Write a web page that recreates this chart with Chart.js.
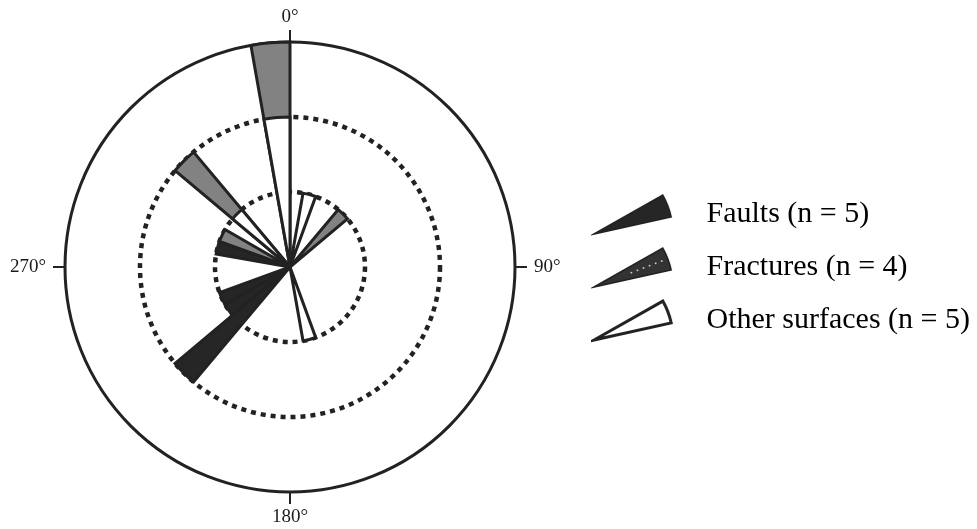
<!DOCTYPE html>
<html>
<head>
<meta charset="utf-8">
<script src="https://cdn.jsdelivr.net/npm/chart.js@4/dist/chart.umd.min.js"></script>
<style>
  html, body { margin: 0; padding: 0; background: #ffffff; }
  #wrap { width: 977px; height: 529px; position: relative; }
</style>
</head>
<body>
<div id="wrap"><canvas id="rose"></canvas></div>
<script>
// Azimuth classes (start of each 10° sector, clockwise from north)
const sectorStarts = [0, 10, 20, 30, 40, 50, 60, 70, 80, 90, 100, 110,
  120, 130, 140, 150, 160, 170, 180, 190, 200, 210, 220, 230,
  240, 250, 260, 270, 280, 290, 300, 310, 320, 330, 340, 350];

// Counts per sector
const faults = [0, 0, 0, 0, 0, 0, 0, 0, 0, 0, 0, 0,
  0, 0, 0, 0, 0, 0, 0, 0, 0, 0, 2, 1,
  1, 0, 0, 0, 1, 0, 0, 0, 0, 0, 0, 0];
const fractures = [0, 0, 0, 0, 1, 0, 0, 0, 0, 0, 0, 0,
  0, 0, 0, 0, 0, 0, 0, 0, 0, 0, 0, 0,
  0, 0, 0, 0, 0, 1, 0, 1, 0, 0, 0, 1];
const otherSurfaces = [0, 1, 0, 0, 0, 0, 0, 0, 0, 0, 0, 0,
  0, 0, 0, 0, 1, 0, 0, 0, 0, 0, 0, 0,
  0, 0, 0, 0, 0, 0, 0, 1, 0, 0, 0, 2];

// Compass labels and the sector index each one sits on
const compassLabels = ['0°', '90°', '180°', '270°'];
const compassIndex = [0, 9, 18, 27];

const seriesNames = ['Faults (n = 5)', 'Fractures (n = 4)', 'Other surfaces (n = 5)'];

const INK = '#222222';
const FAULT_FILL = '#262626';
const FRACTURE_FILL = '#828282';
const OTHER_FILL = '#ffffff';
const SERIF = '"Liberation Serif", "Times New Roman", serif';
const RING_MAX = 3;

// Stacked rose: other surfaces innermost, then fractures, then faults.
// Each layer is drawn out to its cumulative count (only where it has data),
// outer layers underneath, inner layers on top.
const cumOther = otherSurfaces.map(v => v);
const cumFract = fractures.map((v, i) => v > 0 ? otherSurfaces[i] + v : 0);
const cumFault = faults.map((v, i) => v > 0 ? otherSurfaces[i] + fractures[i] + v : 0);

// Legend swatches: tapered petals
function petalIcon(fill, dotted, outlined) {
  const c = document.createElement('canvas');
  c.width = 84; c.height = 48;
  const g = c.getContext('2d');
  const ax = 3, ay = 44, len = 79;
  const dir = -21 * Math.PI / 180, half = 8.5 * Math.PI / 180;
  g.beginPath();
  g.moveTo(ax, ay);
  g.arc(ax, ay, len, dir - half, dir + half);
  g.closePath();
  g.fillStyle = fill;
  g.fill();
  g.lineJoin = 'miter';
  g.lineWidth = outlined ? 3 : 1.5;
  g.strokeStyle = INK;
  g.stroke();
  if (dotted) {
    g.fillStyle = '#d8d8d8';
    for (let k = 0; k < 6; k++) {
      const r = 40 + k * 6.5;
      g.fillRect(ax + r * Math.cos(dir) - 0.8, ay + r * Math.sin(dir) - 0.8, 1.6, 1.6);
    }
  }
  return c;
}
const legendIcons = [
  petalIcon(FAULT_FILL, false, false),
  petalIcon('#333333', true, false),
  petalIcon(OTHER_FILL, false, true)
];

// Compass marks and labels around the outer ring, placed with the radial scale
const compassRose = {
  id: 'compassRose',
  afterDatasetsDraw(chart) {
    const s = chart.scales.r;
    const ctx = chart.ctx;
    const px = s.getDistanceFromCenterForValue(1); // pixels per count
    ctx.save();
    ctx.strokeStyle = INK;
    ctx.lineWidth = 2;
    compassIndex.forEach(idx => {
      const a = s.getPointPositionForValue(idx, RING_MAX);
      const b = s.getPointPositionForValue(idx, RING_MAX + 12 / px);
      ctx.beginPath();
      ctx.moveTo(a.x, a.y);
      ctx.lineTo(b.x, b.y);
      ctx.stroke();
    });
    ctx.fillStyle = '#1a1a1a';
    ctx.font = '19px ' + SERIF;
    ctx.textBaseline = 'middle';
    compassIndex.forEach((idx, k) => {
      const vertical = (k % 2 === 0);
      const gap = vertical ? 25 : 19;
      const p = s.getPointPositionForValue(idx, RING_MAX + gap / px);
      ctx.textAlign = vertical ? 'center' : (k === 1 ? 'left' : 'right');
      ctx.fillText(compassLabels[k], p.x, p.y);
    });
    ctx.restore();
  }
};

const arcStyle = {
  borderColor: INK,
  borderWidth: 3,
  borderJoinStyle: 'miter',
  borderAlign: 'center'
};

new Chart(document.getElementById('rose'), {
  type: 'polarArea',
  data: {
    labels: sectorStarts,
    datasets: [
      Object.assign({ label: seriesNames[2], data: cumOther, backgroundColor: OTHER_FILL }, arcStyle),
      Object.assign({ label: seriesNames[1], data: cumFract, backgroundColor: FRACTURE_FILL }, arcStyle),
      Object.assign({ label: seriesNames[0], data: cumFault, backgroundColor: FAULT_FILL }, arcStyle)
    ]
  },
  plugins: [compassRose],
  options: {
    responsive: true,
    maintainAspectRatio: false,
    animation: false,
    layout: { padding: { left: 30, top: 42, right: -3, bottom: 37 } },
    scales: {
      r: {
        min: 0,
        max: RING_MAX,
        startAngle: 0,
        ticks: { display: false, stepSize: 1 },
        angleLines: { display: false },
        pointLabels: { display: false },
        grid: {
          circular: true,
          color: INK,
          lineWidth: c => (c.tick && c.tick.value === RING_MAX) ? 3 : 4.5
        },
        border: {
          dash: c => (c.tick && c.tick.value === RING_MAX) ? [] : [5, 5]
        }
      }
    },
    plugins: {
      tooltip: { enabled: false },
      legend: {
        display: true,
        position: 'right',
        onClick: null,
        labels: {
          usePointStyle: true,
          pointStyleWidth: 117,
          padding: 23,
          color: '#1a1a1a',
          font: { family: SERIF, size: 30 },
          generateLabels: () => seriesNames.map((name, i) => ({
            text: name,
            pointStyle: legendIcons[i],
            fillStyle: 'transparent',
            strokeStyle: 'transparent',
            lineWidth: 0,
            hidden: false,
            datasetIndex: 2 - i
          }))
        }
      }
    }
  }
});
</script>
</body>
</html>
